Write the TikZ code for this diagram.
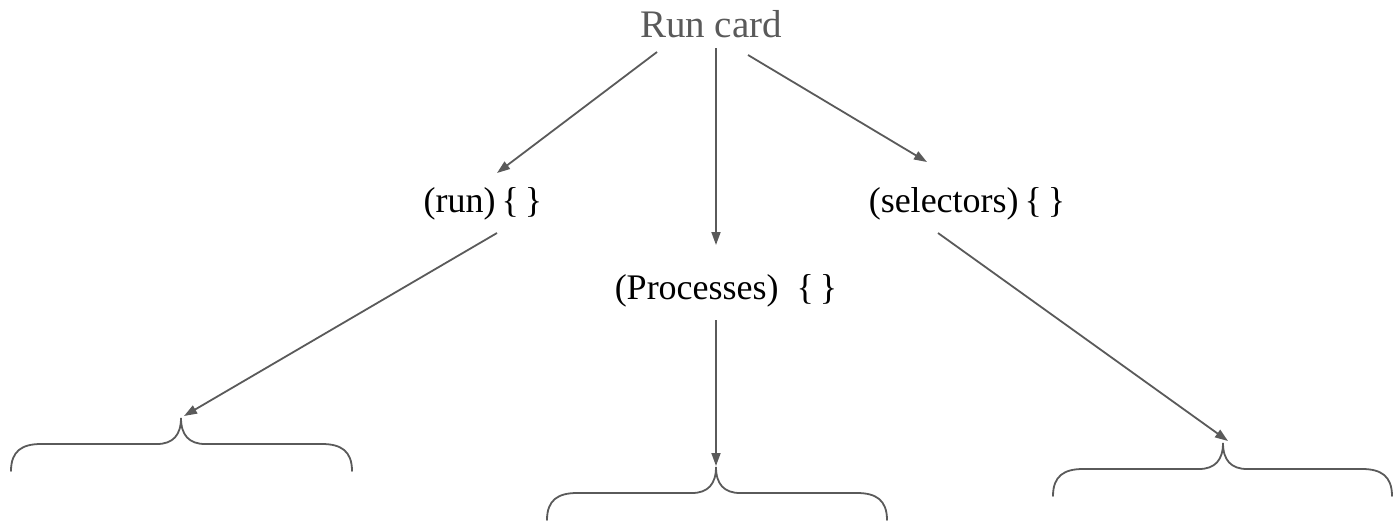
\documentclass[tikz,border=0pt]{standalone}
\usepackage{fontspec}
\setmainfont{Liberation Serif}
\usetikzlibrary{arrows.meta}
\definecolor{ink}{HTML}{5A5A5A}
\tikzset{
  label/.style={inner sep=0pt, font=\fontsize{36}{42}\selectfont, text=black},
  title/.style={inner sep=0pt, font=\fontsize{39}{46}\selectfont, text=ink},
  arr/.style={draw=ink, line width=1.8pt, -{Triangle[length=13pt,width=9pt]}},
  bracestyle/.style={draw=ink, line width=1.8pt, line cap=round},
}
% horizontal curly brace opening downwards: left x, tip x, right x, tip y
\newcommand\downbrace[4]{%
  \draw[bracestyle] (#1,#4+53) .. controls (#1,#4+33) and (#1+11,#4+26) .. (#1+30,#4+26)
    -- (#2-24,#4+26) .. controls (#2-8,#4+26) and (#2,#4+17) .. (#2,#4)
    .. controls (#2,#4+17) and (#2+8,#4+26) .. (#2+24,#4+26)
    -- (#3-30,#4+26) .. controls (#3-11,#4+26) and (#3,#4+33) .. (#3,#4+53);}
\begin{document}
\begin{tikzpicture}[x=1pt, y=-1pt]
\useasboundingbox (0,0) rectangle (1393,523);

\node[title] (rc) at (711,24) {Run card};
\node[label] (run) at (483,204) {(run)\,\{\,\}};
\node[label] (proc) at (726,291) {(Processes)\ \ \{\,\}};
\node[label] (sel) at (967,204) {(selectors)\,\{\,\}};

\downbrace{11}{181}{352}{418}
\downbrace{547}{716}{887}{467}
\downbrace{1053}{1223}{1392}{443}

\coordinate (runtip) at (184,416);
\coordinate (proctip) at (716,466);
\coordinate (seltip) at (1228,441);

\draw[arr] ([shift={(-54,28)}]rc.center) -- ([shift={(14,-31)}]run.center);
\draw[arr] ([shift={(5,24)}]rc.center) -- ([shift={(-10,-46)}]proc.center);
\draw[arr] ([shift={(37,31)}]rc.center) -- ([shift={(-40,-42)}]sel.center);
\draw[arr] ([shift={(14,29)}]run.center) -- (runtip);
\draw[arr] ([shift={(-10,29)}]proc.center) -- (proctip);
\draw[arr] ([shift={(-29,29)}]sel.center) -- (seltip);
\end{tikzpicture}
\end{document}
